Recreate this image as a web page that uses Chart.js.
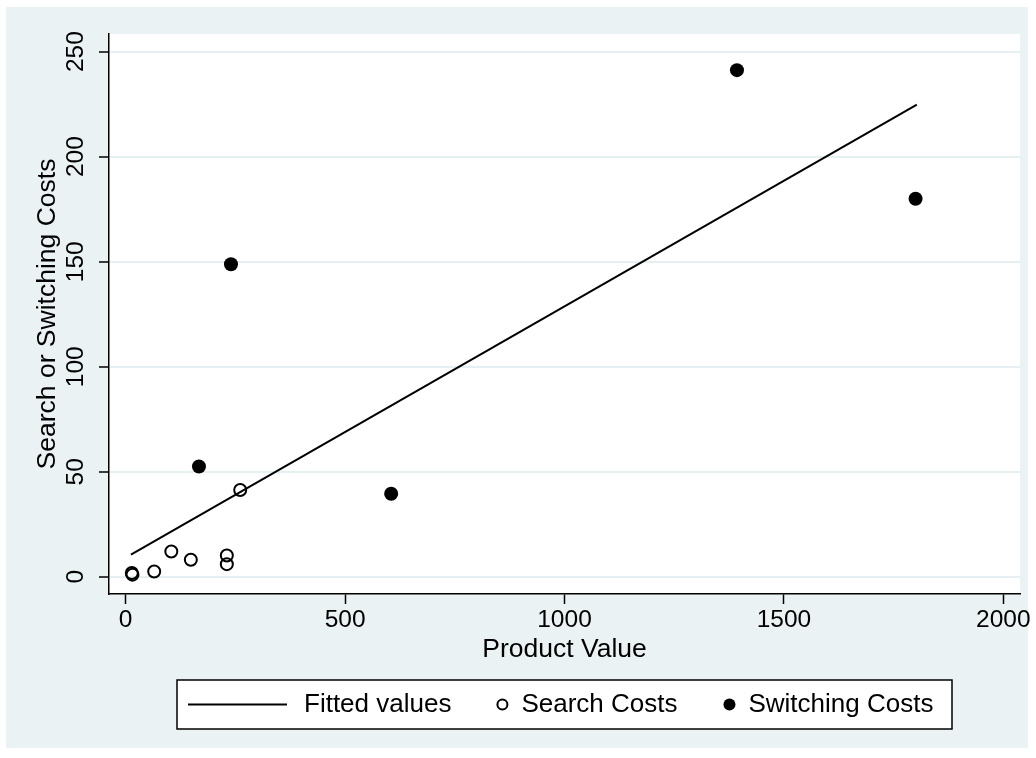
<!DOCTYPE html>
<html>
<head>
<meta charset="utf-8">
<title>Product Value vs Search or Switching Costs</title>
<script src="https://cdn.jsdelivr.net/npm/chart.js@4.4.1/dist/chart.umd.min.js"></script>
<style>
  html, body { margin: 0; padding: 0; background: #ffffff; }
  #chart { display: block; }
</style>
</head>
<body>
<canvas id="chart" width="1036" height="758"></canvas>
<script>
// ==================== DATOS ====================
const searchX = [14, 15.5, 65, 104, 148.5, 230.5, 230.5, 261];
const searchY = [1.8, 1, 2.5, 12, 8.1, 10.1, 6, 41.3];

const switchingX = [167, 240, 605, 1393, 1800];
const switchingY = [52.5, 148.8, 39.5, 241.2, 180];

// recta ajustada (extremos)
const fittedX = [12, 1803];
const fittedY = [10.5, 224.8];

const xTicks = [0, 500, 1000, 1500, 2000];
const yTicks = [0, 50, 100, 150, 200, 250];

const legendLabels = ['Fitted values', 'Search Costs', 'Switching Costs'];

const xTitle = 'Product Value';
const yTitle = 'Search or Switching Costs';

// ==================== ESTILO ====================
const FONT = '"Liberation Sans", Arial, Helvetica, sans-serif';
const regionColor = '#eaf2f3';
const gridColor = '#e6eff1';

function toPoints(xs, ys) {
    return xs.map((x, i) => ({ x: x, y: ys[i] }));
}

// fondo del gráfico (región gris azulada + área blanca)
const backgroundPlugin = {
    id: 'stataBackground',
    beforeDraw(chart) {
        const ctx = chart.ctx;
        const a = chart.chartArea;
        ctx.save();
        ctx.fillStyle = '#ffffff';
        ctx.fillRect(0, 0, chart.width, chart.height);
        ctx.fillStyle = regionColor;
        ctx.fillRect(6, 7, 1022, 741);
        ctx.fillStyle = '#ffffff';
        ctx.fillRect(a.left, a.top, a.right - a.left, a.bottom - a.top);
        ctx.restore();
    }
};

// leyenda con caja, como en Stata
const boxLegendPlugin = {
    id: 'boxLegend',
    afterDraw(chart) {
        const ctx = chart.ctx;
        const box = { left: 177, top: 680, width: 775, height: 49 };
        const cy = box.top + box.height / 2;

        ctx.save();
        ctx.fillStyle = '#ffffff';
        ctx.fillRect(box.left, box.top, box.width, box.height);
        ctx.strokeStyle = '#000000';
        ctx.lineWidth = 1.5;
        ctx.strokeRect(box.left, box.top, box.width, box.height);

        ctx.font = '26px ' + FONT;
        ctx.textBaseline = 'middle';
        ctx.textAlign = 'left';
        ctx.fillStyle = '#000000';

        const sets = chart.data.datasets;
        let x = 188;

        // línea
        ctx.lineWidth = 2;
        ctx.beginPath();
        ctx.moveTo(x, cy);
        ctx.lineTo(x + 99, cy);
        ctx.stroke();
        x += 99 + 17;
        ctx.fillText(sets[0].label, x, cy);
        x += ctx.measureText(sets[0].label).width + 46;

        // círculo vacío
        ctx.lineWidth = 2;
        ctx.beginPath();
        ctx.arc(x + 5, cy, 5, 0, Math.PI * 2);
        ctx.stroke();
        x += 5 + 19;
        ctx.fillText(sets[1].label, x, cy);
        x += ctx.measureText(sets[1].label).width + 46;

        // círculo lleno
        ctx.beginPath();
        ctx.arc(x + 6, cy, 6, 0, Math.PI * 2);
        ctx.fill();
        x += 6 + 19;
        ctx.fillText(sets[2].label, x, cy);

        ctx.restore();
    }
};

// ==================== CHART ====================
const ctx = document.getElementById('chart').getContext('2d');

const chart = new Chart(ctx, {
    type: 'scatter',
    data: {
        datasets: [
            {
                type: 'line',
                label: legendLabels[0],
                data: toPoints(fittedX, fittedY),
                borderColor: '#000000',
                borderWidth: 2,
                pointRadius: 0,
                fill: false,
                tension: 0
            },
            {
                label: legendLabels[1],
                data: toPoints(searchX, searchY),
                pointStyle: 'circle',
                pointRadius: 6,
                borderWidth: 2,
                borderColor: '#000000',
                backgroundColor: 'rgba(0,0,0,0)'
            },
            {
                label: legendLabels[2],
                data: toPoints(switchingX, switchingY),
                pointStyle: 'circle',
                pointRadius: 7,
                borderWidth: 0,
                borderColor: '#000000',
                backgroundColor: '#000000'
            }
        ]
    },
    options: {
        responsive: false,
        animation: false,
        layout: {
            padding: { left: 0, right: 16, top: 34, bottom: 92 }
        },
        plugins: {
            legend: { display: false },
            tooltip: { enabled: false }
        },
        scales: {
            x: {
                type: 'linear',
                position: 'bottom',
                min: -38,
                max: 2038,
                afterBuildTicks: (s) => { s.ticks = xTicks.map(v => ({ value: v })); },
                afterFit: (s) => { s.height = 72; },
                border: { display: true, color: '#000000', width: 1.5 },
                grid: {
                    drawOnChartArea: false,
                    drawTicks: true,
                    tickLength: 10,
                    tickColor: '#000000',
                    tickWidth: 1.5
                },
                ticks: {
                    color: '#000000',
                    font: { family: FONT, size: 24.5 },
                    padding: 2,
                    maxRotation: 0,
                    autoSkip: false,
                    callback: (v) => String(v)
                },
                title: {
                    display: true,
                    text: xTitle,
                    color: '#000000',
                    font: { family: FONT, size: 26.5 },
                    padding: 0
                }
            },
            y: {
                type: 'linear',
                min: -8.2,
                max: 258.4,
                afterBuildTicks: (s) => { s.ticks = yTicks.map(v => ({ value: v })); },
                afterFit: (s) => { s.width = 109; },
                border: { display: true, color: '#000000', width: 1.5 },
                grid: {
                    color: gridColor,
                    lineWidth: 2,
                    drawTicks: true,
                    tickLength: 10,
                    tickColor: '#000000',
                    tickWidth: 1.5
                },
                ticks: {
                    color: '#000000',
                    font: { family: FONT, size: 24.5 },
                    minRotation: 90,
                    maxRotation: 90,
                    crossAlign: 'center',
                    padding: 2,
                    autoSkip: false,
                    callback: (v) => String(v)
                },
                title: {
                    display: true,
                    text: yTitle,
                    color: '#000000',
                    font: { family: FONT, size: 26.5 },
                    padding: { top: 32, bottom: 0 }
                }
            }
        }
    },
    plugins: [backgroundPlugin, boxLegendPlugin]
});
</script>
</body>
</html>
